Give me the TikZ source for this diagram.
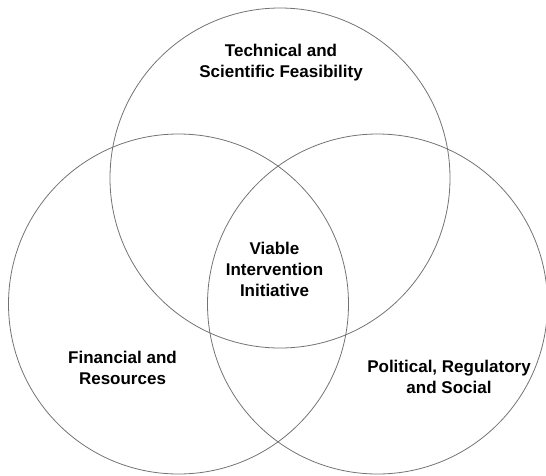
\documentclass[tikz,border=0pt]{standalone}
\usepackage{fontspec}
\setmainfont{Liberation Sans}
\usetikzlibrary{calc}

\tikzset{
    ring/.style={draw=black!55, line width=0.8pt},
    label/.style={font=\bfseries\fontsize{17}{21}\selectfont, align=center, inner sep=0pt}
}

\begin{document}
\begin{tikzpicture}[x=1pt, y=-1pt]
        \useasboundingbox (0,0) rectangle (546,475);
        \coordinate (T) at (280,178);
        \coordinate (F) at (178.5,304);
        \coordinate (P) at (377.5,304);
        \foreach \c in {T,F,P}{
            \draw[ring] (\c) circle (170);
        }
        \node[label] (tech) at (281,63) {Technical and\\Scientific Feasibility};
        \node[label] (viable) at (274.5,269) {Viable\\Intervention\\Initiative};
        \node[label] (fin) at (122.5,368) {Financial and\\Resources};
        \node[label] (pol) at (449,377) {Political, Regulatory\\and Social};
    \end{tikzpicture}
\end{document}
